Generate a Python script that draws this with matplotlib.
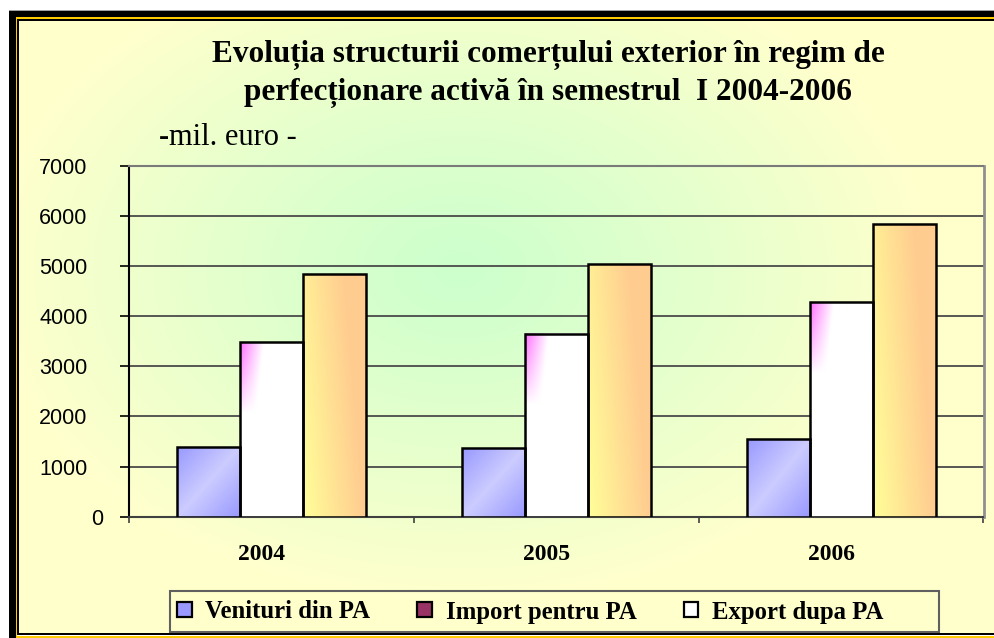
import numpy as np
import matplotlib
matplotlib.use("Agg")
import matplotlib.pyplot as plt
from matplotlib.patches import Rectangle, Patch
from matplotlib.transforms import ScaledTranslation

# ---------------- data ----------------
years = ["2004", "2005", "2006"]
venituri = [1380, 1370, 1550]
import_pa = [3480, 3650, 4270]
export_pa = [4830, 5030, 5825]
legend_labels = ["Venituri din PA", "Import pentru PA", "Export dupa PA"]
title_line1 = "Evoluția structurii comerțului exterior în regim de"
title_line2 = "perfecționare activă în semestrul  I 2004-2006"
yticks = [0, 1000, 2000, 3000, 4000, 5000, 6000, 7000]

SERIF = ["Liberation Serif", "DejaVu Serif"]
SANS = ["Liberation Sans", "DejaVu Sans"]

W, H = 994, 638
fig = plt.figure(figsize=(W / 100, H / 100), dpi=100)
fig.patch.set_facecolor("white")

# ---------------- background / frame ----------------
bg = fig.add_axes([0, 0, 1, 1], zorder=-10)
bg.set_xlim(0, W)
bg.set_ylim(H, 0)
bg.axis("off")

x0, x1, y0, y1 = 19, W, 20, 634
gx = np.linspace(x0, x1, 300)
gy = np.linspace(y0, y1, 200)
GX, GY = np.meshgrid(gx, gy)
t = np.sqrt(((GX - 460) / 470.0) ** 2 + ((GY - 270) / 330.0) ** 2)
t = np.clip(t, 0, 1) ** 1.1
green = np.array([0xCC, 0xFF, 0xCC]) / 255.0
pale = np.array([0xFF, 0xFF, 0xCC]) / 255.0
img = green[None, None, :] * (1 - t[..., None]) + pale[None, None, :] * t[..., None]
bg.imshow(img, extent=(x0, x1, y1, y0), origin="upper", aspect="auto",
          interpolation="bilinear", zorder=0)

# frame: thick black, yellow stripe, thin black
bg.add_patch(Rectangle((9, 10), W - 9, 1, fc="#A0A0A0", ec="none", zorder=1))
bg.add_patch(Rectangle((9, 11), W - 9, 6, fc="black", ec="none", zorder=1))
bg.add_patch(Rectangle((9, 11), 6.5, H - 11, fc="black", ec="none", zorder=1))
bg.add_patch(Rectangle((15.5, 17), W - 15.5, 2, fc="#FFCC00", ec="none", zorder=1))
bg.add_patch(Rectangle((15.5, 17), 1.8, H - 17, fc="#FFCC00", ec="none", zorder=1))
bg.add_patch(Rectangle((17.3, 19), W - 17.3, 1.6, fc="black", ec="none", zorder=1))
bg.add_patch(Rectangle((17.3, 19), 1.6, 616, fc="black", ec="none", zorder=1))
bg.add_patch(Rectangle((17.3, 633.2), W - 17.3, 2.2, fc="black", ec="none", zorder=1))
bg.add_patch(Rectangle((17.3, 635.6), W - 17.3, 2.4, fc="#FFCC00", ec="none", zorder=1))

# legend box
bg.add_patch(Rectangle((169.5, 591), 939 - 169.5, 41, fc="none", ec="#606060",
                       lw=1.5, zorder=2))

# ---------------- titles ----------------
fig.text(548 / W, 1 - 62 / H, title_line1, ha="center", va="baseline",
         fontsize=22.5, fontweight="bold", family=SERIF)
fig.text(548 / W, 1 - 100 / H, title_line2, ha="center", va="baseline",
         fontsize=22.5, fontweight="bold", family=SERIF)
dash = fig.text(159 / W, 1 - 152 / H, "-", ha="left", va="bottom",
                fontsize=22, fontweight="bold", family=SERIF)
unit = plt.annotate("mil. euro -", xy=(1, 0), xycoords=dash, ha="left",
                    va="bottom", fontsize=22, family=SERIF,
                    annotation_clip=False)

# ---------------- main axes ----------------
L, R, T, B = 129, 983.5, 165.5, 516.7
ax = fig.add_axes([L / W, 1 - B / H, (R - L) / W, (B - T) / H])
ax.patch.set_alpha(0)

n = len(years)
xc = np.arange(n)
bw = 0.221
ymax = 7000
px_per_val = (B - T) / ymax
px_per_x = (R - L) / n

series = [venituri, import_pa, export_pa]


def grad_blue(nx, ny):
    u = np.linspace(0, 1, nx)[None, :]
    v = np.linspace(0, 1, ny)[:, None]
    d = np.abs(u - v)
    dark = np.array([0x99, 0x99, 0xFF]) / 255.0
    light = np.array([0xCC, 0xCC, 0xFF]) / 255.0
    s = np.clip(d, 0, 1)[..., None]
    return light * (1 - s) + dark * s


def grad_import(nx, ny, wpx, hpx):
    u = np.linspace(0, 1, nx)[None, :]
    v = np.linspace(0, 1, ny)[:, None]
    px = u * wpx
    py = (1 - v) * hpx
    a = np.clip(1 - px / (24 - py * 0.12), 0, 1) * np.clip(1 - py / 70.0, 0, 1) ** 0.8
    a = a * 0.85
    pink = np.array([0xFF, 0x55, 0xFF]) / 255.0
    white = np.array([1.0, 1.0, 1.0])
    return white * (1 - a[..., None]) + pink * a[..., None]


def grad_export(nx, ny):
    u = np.linspace(0, 1, nx)[None, :]
    v = np.linspace(0, 1, ny)[:, None]
    s = np.clip(1.35 * (0.75 * u + 0.25 * v), 0, 1)[..., None]
    yel = np.array([0xFF, 0xFF, 0x99]) / 255.0
    org = np.array([0xFF, 0xCC, 0x90]) / 255.0
    return yel * (1 - s) + org * s


for i, vals in enumerate(series):
    xs = xc + (i - 1) * bw
    bars = ax.bar(xs, vals, bw, facecolor="none", edgecolor="black",
                  linewidth=1.8, zorder=4)
    for rect in bars:
        bx, by = rect.get_x(), rect.get_y()
        bwid, bh = rect.get_width(), rect.get_height()
        if i == 0:
            g = grad_blue(60, 80)
        elif i == 1:
            g = grad_import(60, 200, bwid * px_per_x, bh * px_per_val)
        else:
            g = grad_export(60, 200)
        ax.imshow(g, extent=(bx, bx + bwid, by, by + bh), origin="lower",
                  aspect="auto", interpolation="bilinear", zorder=3)

ax.set_xlim(-0.5, n - 0.5)
ax.set_ylim(0, ymax)

# grid & spines
ax.set_yticks(yticks)
ax.yaxis.grid(True, color="#4a4a4a", linewidth=1.3, zorder=1)
ax.set_axisbelow(True)
ax.spines["left"].set_color("black")
ax.spines["left"].set_linewidth(1.5)
ax.spines["bottom"].set_color("#404040")
ax.spines["bottom"].set_linewidth(1.5)
ax.spines["top"].set_color("#7a7a7a")
ax.spines["top"].set_linewidth(1.5)
ax.spines["right"].set_color("#909090")
ax.spines["right"].set_linewidth(2)

ax.tick_params(axis="y", direction="out", length=6.5, width=1.2,
               color="black", pad=23.4, labelsize=15.5)
for lab in ax.get_yticklabels():
    lab.set_family(SANS)
# the "0" label sits further right in the reference
ylabs = ax.get_yticklabels()
ylabs[0].set_transform(ylabs[0].get_transform() +
                       ScaledTranslation(0.16, 0, fig.dpi_scale_trans))

ax.set_xticks(np.arange(-0.5, n, 1.0))
ax.set_xticklabels([])
ax.tick_params(axis="x", which="major", direction="out", length=4.5,
               width=1.2, color="#404040")
ax.set_xticks(xc, minor=True)
ax.set_xticklabels(years, minor=True)
ax.tick_params(axis="x", which="minor", length=0, pad=19.4, labelsize=17)
for lab in ax.get_xticklabels(minor=True):
    lab.set_family(SERIF)
    lab.set_fontweight("bold")
    lab.set_transform(lab.get_transform() +
                      ScaledTranslation(-0.10, 0, fig.dpi_scale_trans))

# ---------------- legend ----------------
handles = [
    Patch(facecolor="#9999FF", edgecolor="black", linewidth=1.6),
    Patch(facecolor="#993366", edgecolor="black", linewidth=1.6),
    Patch(facecolor="white", edgecolor="black", linewidth=1.6),
]
leg = fig.legend(handles, legend_labels, loc="center left",
                 bbox_to_anchor=(177 / W, 1 - 612 / H), ncol=3, frameon=False,
                 prop={"family": SERIF, "weight": "bold", "size": 17.8},
                 handlelength=0.6, handleheight=0.55, handletextpad=0.55,
                 columnspacing=1.9, borderpad=0, borderaxespad=0)

fig.savefig("out.png", dpi=100)
